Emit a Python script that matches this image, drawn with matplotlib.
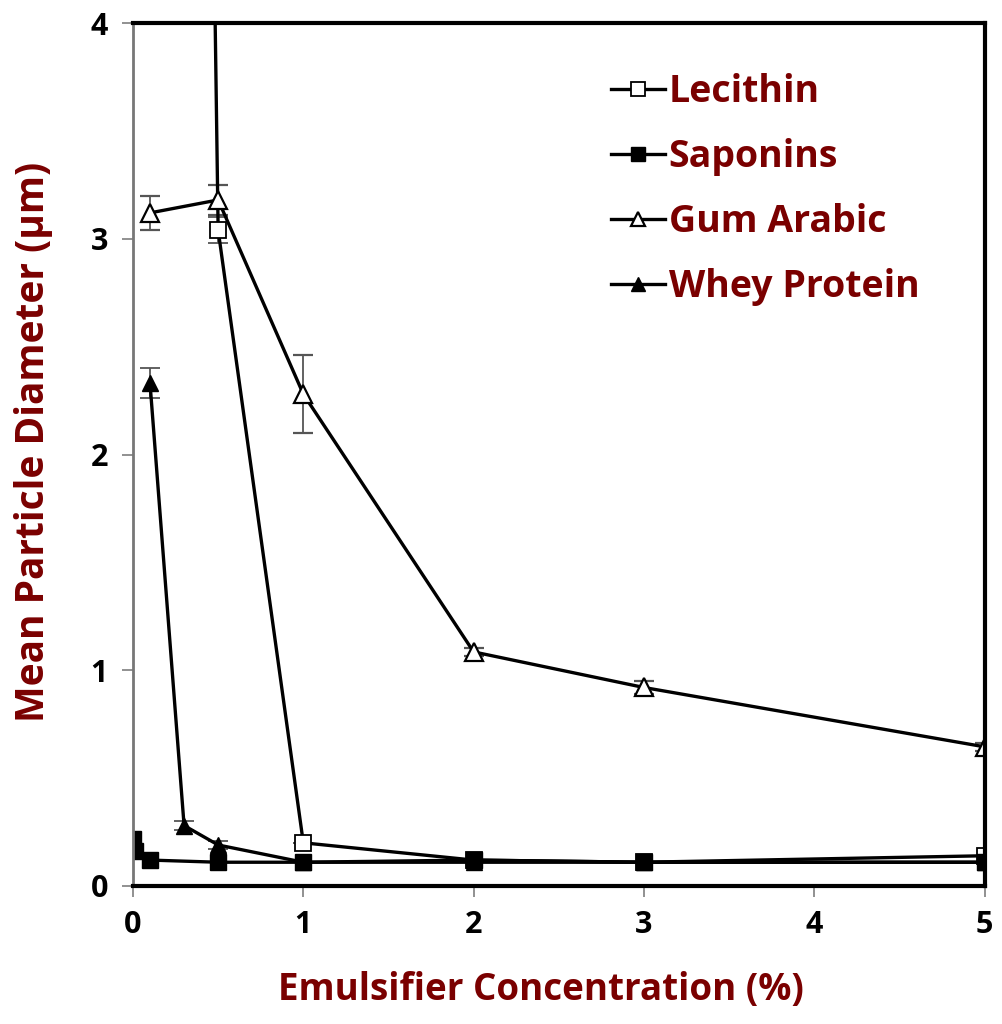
import matplotlib
matplotlib.use("Agg")
import matplotlib.pyplot as plt

# data
lec_x = [0.1, 0.5, 1, 2, 3, 5]
lec_y = [25.0, 3.04, 0.20, 0.12, 0.11, 0.14]
lec_err = [0, 0.06, 0, 0, 0, 0]

sap_x = [0, 0.01, 0.1, 0.5, 1, 2, 3, 5]
sap_y = [0.22, 0.16, 0.12, 0.11, 0.11, 0.12, 0.11, 0.11]

gum_x = [0.1, 0.5, 1, 2, 3, 5]
gum_y = [3.12, 3.18, 2.28, 1.085, 0.92, 0.645]
gum_err = [0.08, 0.07, 0.18, 0.02, 0.03, 0.02]

whey_x = [0.1, 0.3, 0.5, 1, 2, 3, 5]
whey_y = [2.33, 0.28, 0.19, 0.11, 0.11, 0.11, 0.11]
whey_err = [0.07, 0.02, 0.02, 0, 0, 0, 0]

labels = ["Lecithin", "Saponins", "Gum Arabic", "Whey Protein"]
red = "#7a0000"

plt.rcParams['font.family'] = ['Open Sans', 'DejaVu Sans']

fig = plt.figure(figsize=(10.03, 10.24), dpi=100)
ax = fig.add_axes([0.1326, 0.1348, 0.849, 0.8427])

lw = 2.4
ms = 12
ekw = dict(ecolor="#555555", elinewidth=1.3, capsize=7, capthick=1.3)

ax.errorbar(lec_x, lec_y, yerr=lec_err, color="black", lw=lw, marker="s", ms=ms,
            mfc="white", mec="black", mew=1.3, label=labels[0], **ekw)
ax.errorbar(sap_x, sap_y, color="black", lw=lw, marker="s", ms=ms,
            mfc="black", mec="black", label=labels[1])
ax.errorbar(whey_x, whey_y, yerr=whey_err, color="black", lw=lw, marker="^", ms=ms,
            mfc="black", mec="black", label=labels[3], **ekw)
ax.errorbar(gum_x, gum_y, yerr=gum_err, color="black", lw=lw, marker="^", ms=ms + 1,
            mfc="white", mec="black", mew=1.6, label=labels[2], **ekw)

ax.set_xlim(0, 5)
ax.set_ylim(0, 4)
ax.set_xticks([0, 1, 2, 3, 4, 5])
ax.set_yticks([0, 1, 2, 3, 4])
ax.tick_params(axis="both", direction="out", length=8, color="#888888", width=1.3,
               labelsize=22)
ax.tick_params(axis="x", pad=9)
ax.tick_params(axis="y", pad=10)
for lab in ax.get_xticklabels() + ax.get_yticklabels():
    lab.set_fontweight("bold")
for s in ["top", "right", "bottom"]:
    ax.spines[s].set_linewidth(3)
    ax.spines[s].set_color("black")
ax.spines["left"].set_linewidth(2)
ax.spines["left"].set_color("#777777")

ax.set_xlabel("Emulsifier Concentration (%)", fontsize=26.5, fontweight="bold",
              color=red)
ax.set_ylabel("Mean Particle Diameter (\u03bcm)", fontsize=28, fontweight="bold",
              color=red)
ax.xaxis.set_label_coords(0.479, -0.098)
ax.yaxis.set_label_coords(-0.094, 0.514)

h, l = ax.get_legend_handles_labels()
order = [l.index(n) for n in labels]
h = [hh[0] if isinstance(hh, tuple) else hh for hh in h]
leg = ax.legend([h[i] for i in order], [l[i] for i in order], loc="upper left",
                bbox_to_anchor=(0.53, 0.972), frameon=False, fontsize=27,
                handlelength=1.45, handletextpad=0.1, labelspacing=0.72,
                markerscale=0.8, borderaxespad=0.3)
for t in leg.get_texts():
    t.set_color(red)
    t.set_fontweight("bold")

fig.savefig("out.png", dpi=100)
